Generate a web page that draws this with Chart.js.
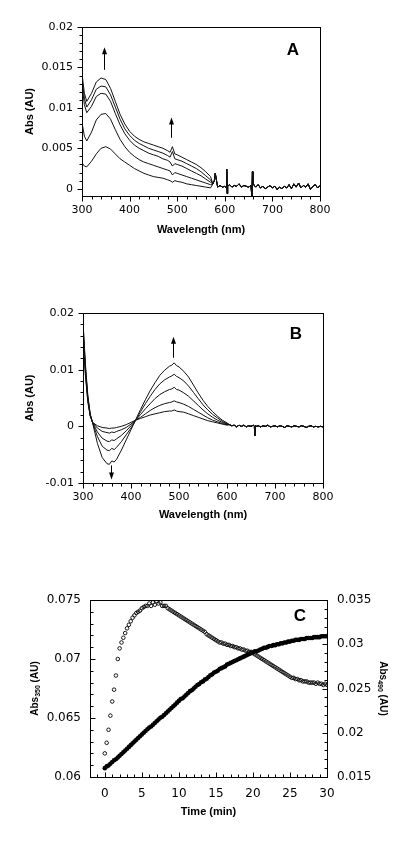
<!DOCTYPE html>
<html>
<head>
<meta charset="utf-8">
<script src="https://cdn.jsdelivr.net/npm/chart.js@4.4.1/dist/chart.umd.min.js"></script>
<style>
  body { margin: 0; background: #fff; width: 400px; height: 844px; overflow: hidden; position: relative; }
  canvas { position: absolute; left: 0; }
</style>
</head>
<body>
<canvas id="chartA" width="400" height="250" style="top:0"></canvas>
<canvas id="chartB" width="400" height="260" style="top:280px"></canvas>
<canvas id="chartC" width="400" height="284" style="top:560px"></canvas>
<script>
// ---- Panel A: spectra (wavelength nm -> Abs AU) ----
const wlHeadA = [300,305,310,320,330,340,350,360,370,380,390,400,410,420,430,440,450,460,470,480,485,490,495,500,510,520,530,540,550,560,570];
const absA1 = [.0142,.0118,.0108,.0118,.0132, .0137,.0135,.0124,.0108,.0092, .0080,.0071,.0065,.0061,.0058, .0056,.0054,.0052,.0050,.0047, .0045,.0052,.0043,.0042,.0039, .0036,.0033,.0030,.0026,.0021, .0015];
const absA2 = [.0136,.0112,.0101,.0110,.0123, .0127,.0126,.0116,.0101,.0086, .0074,.0066,.0060,.0056,.0053, .0050,.0048,.0046,.0044,.0041, .0039,.0046,.0037,.0036,.0034, .0031,.0028,.0025,.0021,.0016, .0011];
const absA3 = [.0128,.0104,.0094,.0102,.0114, .0118,.0117,.0108,.0093,.0079, .0068,.0060,.0054,.0050,.0047, .0044,.0042,.0040,.0037,.0035, .0033,.0028,.0031,.0030,.0028, .0025,.0022,.0019,.0016,.0012, .0008];
const absA4 = [.0082,.0065,.0059,.0070,.0085, .0092,.0093,.0086,.0073,.0061, .0052,.0045,.0040,.0036,.0033, .0031,.0029,.0027,.0025,.0023, .0022,.0017,.0020,.0019,.0017, .0015,.0013,.0011,.0009,.0007, .0005];
const absA5 = [.0032,.0028,.0027,.0034,.0043, .0050,.0052,.0049,.0043,.0037, .0033,.0029,.0025,.0022,.0019, .0017,.0015,.0014,.0013,.0011, .0010,.0008,.0010,.0009,.0008, .0006,.0005,.0004,.0003,.0002, .0001];
// common noisy baseline beyond 575 nm
const wlTailA = [575,578,580,582,585, 590,595,600,603,604, 605,606,610,615,620, 625,630,635,640,645, 650,655,657,658,659, 662,665,670,675,680, 685,690,695,700,705, 710,715,720,725,730, 735,740,745,750,755, 760,765,770,775,780, 785,790,795,800];
const tailA = [.0006,.0010,.0019,.0012,.0002, .0004,.0002,.0003,.0001,.0024, -.0006,.0003,.0005,.0002,.0004, .0003,.0006,.0002,.0004,.0003, .0002,.0004,-.0011,.0021,.0007, .0004,.0002,.0005,.0001,.0003, .0000,.0002,.0004,.0001,.0003, -.0001,.0002,.0000,.0003,.0001, .0005,.0000,.0006,.0002,.0007, .0001,.0004,.0002,.0006,-.0001, .0003,.0005,.0001,.0004];
const ticksAx = [300,400,500,600,700,800];
const ticksAy = [0,0.005,0.01,0.015,0.02];

// ---- Panel B: difference spectra ----
const wlHeadB = [300,305,310,315,320,330,340,350,355,360,365,370,380,390,400,410,420,430,440,450,460,470,480,485,490,495,500,510,520,530,540,550,560,570,580,590,600];
const absB1 = [.0185,.0110,.0055,.0022,.0006, -.0030,-.0055,-.0066,-.0067,-.0061, -.0063,-.0058,-.0042,-.0024,-.0006, .0012,.0030,.0047,.0063,.0077, .0090,.0099,.0106,.0108,.0112, .0107,.0105,.0097,.0087,.0073, .0059,.0046,.0035,.0026,.0018, .0011,.0006];
const absB2 = [.0180,.0105,.0052,.0021,.0006, -.0018,-.0035,-.0042,-.0043,-.0039, -.0041,-.0037,-.0027,-.0015,-.0003, .0011,.0026,.0040,.0053,.0065, .0075,.0082,.0087,.0089,.0092, .0088,.0086,.0080,.0071,.0060, .0049,.0038,.0029,.0021,.0015, .0009,.0005];
const absB3 = [.0175,.0100,.0049,.0020,.0007, -.0010,-.0021,-.0026,-.0027,-.0024, -.0025,-.0022,-.0016,-.0008,.0001, .0011,.0021,.0031,.0040,.0049, .0056,.0061,.0065,.0066,.0069, .0065,.0064,.0059,.0053,.0045, .0037,.0029,.0022,.0016,.0011, .0007,.0004];
const absB4 = [.0170,.0095,.0046,.0019,.0007, -.0003,-.0009,-.0011,-.0012,-.0010, -.0011,-.0009,-.0006,-.0002,.0004, .0011,.0016,.0022,.0028,.0033, .0037,.0040,.0042,.0043,.0045, .0043,.0042,.0039,.0035,.0030, .0025,.0020,.0015,.0011,.0008, .0005,.0003];
const absB5 = [.0165,.0090,.0043,.0018,.0007, .0001,-.0002,-.0003,-.0004,-.0003, -.0003,-.0002,.0000,.0003,.0007, .0011,.0014,.0017,.0020,.0022, .0024,.0026,.0027,.0027,.0029, .0027,.0026,.0025,.0022,.0019, .0016,.0013,.0010,.0008,.0006, .0004,.0002];
const wlTailB = [605,610,615,620,625,630,635,640,645,650,655, 657,658,659,662, 665,670,675,680,685,690,695,700,705,710,715,720,725,730,735,740,745,750,755,760,765,770,775,780,785,790,795,800];
const tailB = [.0003,.0001,.0002,-.0001,.0002,.0000,.0002,-.0001,.0001,.0000,.0002, .0000,-.0017,.0001,.0000, .0001,-.0001,.0001,.0000,.0002,-.0001,.0000,.0001,-.0001,.0001,.0000,-.0002,.0001,.0000,-.0001,.0001,.0000,-.0001,.0001,.0000,-.0002,.0000,.0001,-.0001,.0000,-.0001,.0000,-.0001];
const ticksBx = [300,400,500,600,700,800];
const ticksBy = [-0.01,0,0.01,0.02];

// ---- Panel C: kinetics ----
const timeMin = [
  0,0.25,0.5,0.75,1,1.25,1.5,1.75,
  2,2.25,2.5,2.75,3,3.25,3.5,3.75,
  4,4.25,4.5,4.75,5,5.25,5.5,5.75,
  6,6.25,6.5,6.75,7,7.25,7.5,7.75,
  8,8.25,8.5,8.75,9,9.25,9.5,9.75,
  10,10.25,10.5,10.75,11,11.25,11.5,11.75,
  12,12.25,12.5,12.75,13,13.25,13.5,13.75,
  14,14.25,14.5,14.75,15,15.25,15.5,15.75,
  16,16.25,16.5,16.75,17,17.25,17.5,17.75,
  18,18.25,18.5,18.75,19,19.25,19.5,19.75,
  20,20.25,20.5,20.75,21,21.25,21.5,21.75,
  22,22.25,22.5,22.75,23,23.25,23.5,23.75,
  24,24.25,24.5,24.75,25,25.25,25.5,25.75,
  26,26.25,26.5,26.75,27,27.25,27.5,27.75,
  28,28.25,28.5,28.75,29,29.25,29.5,29.75,
  30];
const abs350 = [
  .0620,.0629,.0640,.0652,.0664,.0674,.0686,.0700,
  .0709,.0714,.0718,.0722,.0726,.0729,.0732,.0735,
  .0737,.0739,.0740,.0741,.0743,.0744,.0745,.0745,
  .0747,.0745,.0748,.0746,.0749,.0747,.0748,.0745,
  .0745,.0745,.0743,.0742,.0741,.0740,.0739,.0738,
  .0737,.0736,.0735,.0734,.0733,.0732,.0731,.0730,
  .0729,.0728,.0727,.0726,.0725,.0724,.0723,.0721,
  .0720,.0719,.0718,.0717,.0716,.0715,.0714,.0714,
  .0713,.0713,.0712,.0712,.0711,.0711,.0710,.0710,
  .0709,.0709,.0708,.0708,.0707,.0707,.0706,.0706,
  .0705,.0704,.0703,.0702,.0701,.0700,.0699,.0698,
  .0697,.0696,.0695,.0694,.0693,.0692,.0691,.0690,
  .0689,.0688,.0687,.0686,.0685,.0684,.0684,.0683,
  .0683,.0682,.0682,.0681,.0681,.0681,.0680,.0680,
  .0680,.0680,.0679,.0680,.0679,.0679,.0678,.0679,
  .0678];
const abs490 = [
  .0160,.0162,.0163,.0165,.0167,.0169,.0170,.0172,
  .0174,.0176,.0178,.0180,.0182,.0184,.0186,.0188,
  .0190,.0192,.0194,.0196,.0198,.0200,.0202,.0204,
  .0206,.0207,.0209,.0211,.0213,.0215,.0217,.0218,
  .0220,.0222,.0224,.0226,.0228,.0230,.0232,.0234,
  .0236,.0238,.0239,.0241,.0243,.0245,.0247,.0248,
  .0250,.0252,.0254,.0255,.0257,.0258,.0260,.0261,
  .0263,.0265,.0266,.0268,.0269,.0270,.0272,.0273,
  .0274,.0275,.0277,.0278,.0279,.0280,.0281,.0282,
  .0283,.0284,.0285,.0286,.0287,.0288,.0289,.0290,
  .0291,.0292,.0292,.0293,.0294,.0295,.0296,.0296,
  .0297,.0298,.0298,.0299,.0299,.0300,.0300,.0301,
  .0301,.0302,.0302,.0303,.0303,.0304,.0304,.0305,
  .0305,.0305,.0306,.0306,.0306,.0307,.0307,.0307,
  .0307,.0308,.0308,.0308,.0308,.0309,.0309,.0309,
  .0309];
const ticksCx = [0,5,10,15,20,25,30];
const ticksCy = [0.06,0.065,0.07,0.075];
const ticksCy1 = [0.015,0.02,0.025,0.03,0.035];

Chart.defaults.font.family = '"DejaVu Sans", sans-serif';
Chart.defaults.font.size = 11;
Chart.defaults.color = '#000';

function spectrum(wlHead, wlTail, head, tail) {
  const wl = wlHead.concat(wlTail);
  const ys = head.concat(tail);
  return wl.map((w, i) => ({ x: w, y: ys[i] }));
}
function fixWidth(w) { return function (scale) { scale.width = w; }; }
function fixHeight(h) { return function (scale) { scale.height = h; }; }
function setTicks(values) { return function (scale) { scale.ticks = values.map(v => ({ value: v })); }; }
function fmt(v) { return String(Number(Number(v).toPrecision(6))); }

function drawParts(ctx, parts, size, cx, cy, rot) {
  ctx.save();
  ctx.translate(cx, cy);
  ctx.rotate(rot);
  ctx.textBaseline = 'middle';
  ctx.textAlign = 'left';
  let total = 0;
  parts.forEach(p => {
    ctx.font = 'bold ' + (p[1] ? size * 0.7 : size) + 'px "Liberation Sans", Arial, sans-serif';
    total += ctx.measureText(p[0]).width;
  });
  let x = -total / 2;
  parts.forEach(p => {
    ctx.font = 'bold ' + (p[1] ? size * 0.7 : size) + 'px "Liberation Sans", Arial, sans-serif';
    ctx.fillText(p[0], x, p[1] ? size * 0.3 : 0);
    x += ctx.measureText(p[0]).width;
  });
  ctx.restore();
}

// frame, tick marks, arrows, axis titles and panel letter
const framePlugin = {
  id: 'frame',
  afterDraw(chart, args, opts) {
    const ctx = chart.ctx;
    const a = chart.chartArea;
    const L = Math.round(a.left) + 0.5, R = Math.round(a.right) + 0.5;
    const T = Math.round(a.top) + 0.5, B = Math.round(a.bottom) + 0.5;
    ctx.save();
    ctx.strokeStyle = '#000';
    ctx.fillStyle = '#000';
    ctx.lineWidth = 1;
    ctx.strokeRect(L, T, R - L, B - T);

    opts.ticks.forEach(function (t) {
      const sc = chart.scales[t.axis];
      const n0 = Math.ceil(sc.min / t.minor - 1e-6);
      const n1 = Math.floor(sc.max / t.minor + 1e-6);
      ctx.beginPath();
      for (let n = n0; n <= n1; n++) {
        const v = n * t.minor;
        const q = v / t.major;
        const len = Math.abs(q - Math.round(q)) < 1e-6 ? 5 : 3;
        const p = Math.round(sc.getPixelForValue(v)) + 0.5;
        if (t.side === 'bottom') {
          ctx.moveTo(p, B); ctx.lineTo(p, B + (t.inward ? -len : len));
        } else if (t.side === 'left') {
          ctx.moveTo(L, p); ctx.lineTo(L + (t.inward ? len : -len), p);
        } else {
          ctx.moveTo(R, p); ctx.lineTo(R + (t.inward ? -len : len), p);
        }
      }
      ctx.stroke();
    });

    (opts.arrows || []).forEach(function (ar) {
      const x = Math.round(chart.scales.x.getPixelForValue(ar.x)) + 0.5;
      const y0 = chart.scales.y.getPixelForValue(ar.from);
      const y1 = chart.scales.y.getPixelForValue(ar.to);
      const d = y1 < y0 ? 1 : -1;
      ctx.beginPath(); ctx.moveTo(x, y0); ctx.lineTo(x, y1 + d * 5); ctx.stroke();
      ctx.beginPath(); ctx.moveTo(x, y1); ctx.lineTo(x - 2.5, y1 + d * 7); ctx.lineTo(x + 2.5, y1 + d * 7);
      ctx.closePath(); ctx.fill();
    });

    const midX = (a.left + a.right) / 2, midY = (a.top + a.bottom) / 2;
    (opts.titles || []).forEach(function (t) {
      if (t.side === 'bottom') drawParts(ctx, t.parts, t.size, midX, a.bottom + t.off, 0);
      else if (t.side === 'left') drawParts(ctx, t.parts, t.size, a.left - t.off, midY, -Math.PI / 2);
      else drawParts(ctx, t.parts, t.size, a.right + t.off, midY, Math.PI / 2);
    });

    ctx.font = 'bold 17px "Liberation Sans", Arial, sans-serif';
    ctx.textAlign = 'center';
    ctx.textBaseline = 'middle';
    ctx.fillText(opts.letter.text, a.right + opts.letter.dx, a.top + opts.letter.dy);
    ctx.restore();
  }
};

const lineSet = { showLine: true, borderColor: '#111', borderWidth: 1, pointRadius: 0, tension: 0 };
const noGrid = { display: false, drawTicks: false };

function spectrumChart(id, sets, xTicks, yTicks, yMin, yMax, yMinor, pad, yWidth, xHeight, extras) {
  return new Chart(document.getElementById(id), {
    type: 'scatter',
    data: { datasets: sets.map(d => Object.assign({ data: d }, lineSet)) },
    options: {
      responsive: false,
      animation: false,
      layout: { padding: pad },
      plugins: {
        legend: { display: false },
        tooltip: { enabled: false },
        frame: Object.assign({
          ticks: [
            { axis: 'x', side: 'bottom', major: 100, minor: 20, inward: false },
            { axis: 'y', side: 'left', major: yTicks[1] - yTicks[0], minor: yMinor, inward: false }
          ]
        }, extras)
      },
      scales: {
        x: {
          type: 'linear', min: 300, max: 800,
          grid: noGrid, border: { display: false },
          ticks: { padding: 8, maxRotation: 0, callback: fmt },
          afterBuildTicks: setTicks(xTicks), afterFit: fixHeight(xHeight)
        },
        y: {
          type: 'linear', min: yMin, max: yMax,
          grid: noGrid, border: { display: false },
          ticks: { padding: 9, callback: fmt },
          afterBuildTicks: setTicks(yTicks), afterFit: fixWidth(yWidth)
        }
      }
    },
    plugins: [framePlugin]
  });
}

spectrumChart('chartA',
  [absA1, absA2, absA3, absA4, absA5].map(h => spectrum(wlHeadA, wlTailA, h, tailA)),
  ticksAx, ticksAy, -0.0009, 0.02, 0.001,
  { left: 0, right: 80, top: 27, bottom: 0 }, 82, 54,
  {
    arrows: [{ x: 346, from: 0.0147, to: 0.0175 }, { x: 488, from: 0.0063, to: 0.0088 }],
    titles: [
      { side: 'bottom', off: 34, size: 11, parts: [['Wavelength (nm)', false]] },
      { side: 'left', off: 52, size: 11, parts: [['Abs (AU)', false]] }
    ],
    letter: { text: 'A', dx: -27, dy: 23 }
  });

spectrumChart('chartB',
  [absB1, absB2, absB3, absB4, absB5].map(h => spectrum(wlHeadB, wlTailB, h, tailB)),
  ticksBx, ticksBy, -0.01, 0.02, 0.002,
  { left: 0, right: 77, top: 33, bottom: 0 }, 83, 57,
  {
    arrows: [{ x: 487, from: 0.0121, to: 0.0158 }, { x: 358, from: -0.0069, to: -0.0094 }],
    titles: [
      { side: 'bottom', off: 32, size: 11, parts: [['Wavelength (nm)', false]] },
      { side: 'left', off: 53, size: 11, parts: [['Abs (AU)', false]] }
    ],
    letter: { text: 'B', dx: -27, dy: 21 }
  });

new Chart(document.getElementById('chartC'), {
  type: 'scatter',
  data: {
    datasets: [
      {
        data: timeMin.map((t, i) => ({ x: t, y: abs490[i] })), yAxisID: 'y1',
        pointRadius: 2.3, pointBorderWidth: 0, backgroundColor: '#000', borderColor: '#000'
      },
      {
        data: timeMin.map((t, i) => ({ x: t, y: abs350[i] })), yAxisID: 'y',
        pointRadius: 1.8, pointBorderWidth: 0.9, backgroundColor: 'rgba(255,255,255,0)', borderColor: '#000'
      }
    ]
  },
  options: {
    responsive: false,
    animation: false,
    layout: { padding: { left: 0, right: 0, top: 40, bottom: 0 } },
    plugins: {
      legend: { display: false },
      tooltip: { enabled: false },
      frame: {
        ticks: [
          { axis: 'x', side: 'bottom', major: 5, minor: 1, inward: true },
          { axis: 'y', side: 'left', major: 0.005, minor: 0.001, inward: true },
          { axis: 'y1', side: 'right', major: 0.005, minor: 0.001, inward: true }
        ],
        titles: [
          { side: 'bottom', off: 35, size: 11, parts: [['Time (min)', false]] },
          { side: 'left', off: 55, size: 10, parts: [['Abs', false], ['350', true], [' (AU)', false]] },
          { side: 'right', off: 56, size: 10, parts: [['Abs', false], ['490', true], [' (AU)', false]] }
        ],
        letter: { text: 'C', dx: -27, dy: 16 }
      }
    },
    scales: {
      x: {
        type: 'linear', min: -2, max: 30,
        grid: noGrid, border: { display: false },
        ticks: { padding: 10, maxRotation: 0, font: { size: 12 }, callback: fmt },
        afterBuildTicks: setTicks(ticksCx), afterFit: fixHeight(67)
      },
      y: {
        type: 'linear', position: 'left', min: 0.06, max: 0.075,
        grid: noGrid, border: { display: false },
        ticks: { padding: 9, font: { size: 12 }, callback: fmt },
        afterBuildTicks: setTicks(ticksCy), afterFit: fixWidth(90)
      },
      y1: {
        type: 'linear', position: 'right', min: 0.015, max: 0.035,
        grid: noGrid, border: { display: false },
        ticks: { padding: 10, font: { size: 12 }, callback: fmt },
        afterBuildTicks: setTicks(ticksCy1), afterFit: fixWidth(73)
      }
    }
  },
  plugins: [framePlugin]
});
</script>
</body>
</html>
